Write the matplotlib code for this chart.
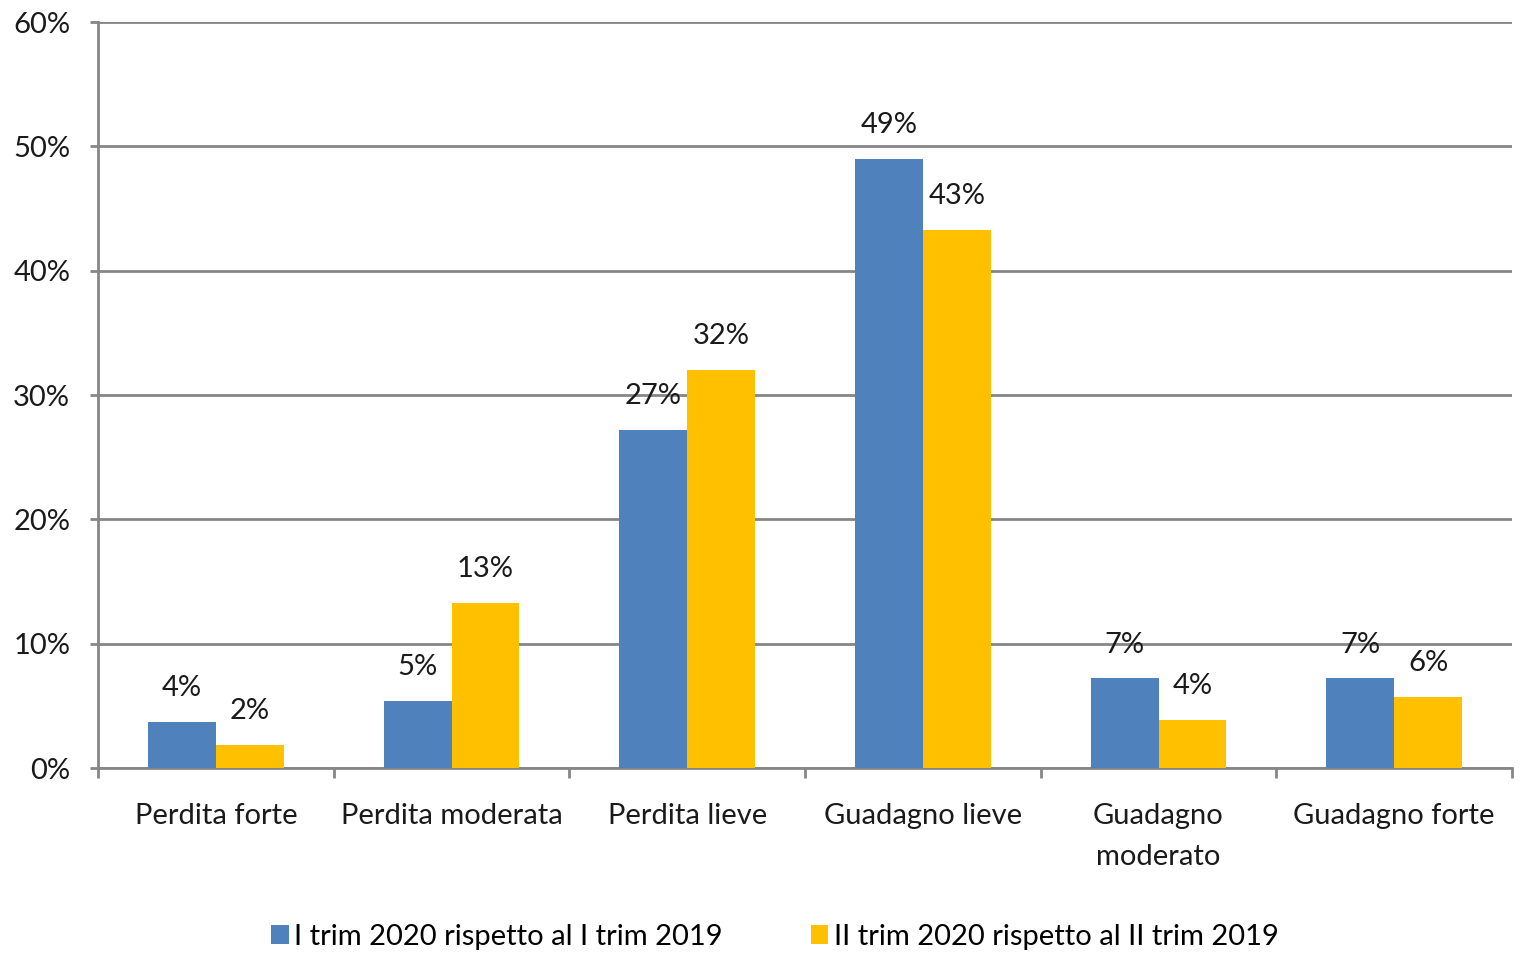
import numpy as np
import matplotlib
matplotlib.use("Agg")
import matplotlib.pyplot as plt
from matplotlib.ticker import FuncFormatter, FixedLocator

categories = ["Perdita forte", "Perdita moderata", "Perdita lieve",
              "Guadagno lieve", "Guadagno\nmoderato", "Guadagno forte"]
trim1 = [3.7, 5.4, 27.2, 49.0, 7.2, 7.2]
trim2 = [1.85, 13.3, 32.0, 43.3, 3.9, 5.7]
series_names = ["I trim 2020 rispetto al I trim 2019",
                "II trim 2020 rispetto al II trim 2019"]

plt.rcParams['font.family'] = ['Lato', 'DejaVu Sans']
grid_col = '#868686'
txt_col = '#1a1a1a'
fs = 21

fig = plt.figure(figsize=(15.2, 9.55), dpi=100)
ax = fig.add_axes([98/1520, 1-768/955, (1512-98)/1520, (768-22)/955])

x = np.arange(len(categories))
w = 0.288
b1 = ax.bar(x - w/2, trim1, w, color='#4F81BD', label=series_names[0], zorder=3)
b2 = ax.bar(x + w/2, trim2, w, color='#FFC000', label=series_names[1], zorder=3)

for bars, vals in ((b1, trim1), (b2, trim2)):
    for rect, v in zip(bars, vals):
        ax.annotate(f"{round(v):.0f}%", (rect.get_x() + rect.get_width()/2, v),
                    xytext=(0, 15), textcoords='offset points',
                    ha='center', va='bottom', fontsize=fs, color=txt_col)

ax.set_xlim(-0.5, len(categories) - 0.5)
ax.set_ylim(0, 60)
ax.set_yticks(np.arange(0, 61, 10))
ax.yaxis.set_major_formatter(FuncFormatter(lambda v, p: f"{v:.0f}%"))
ax.yaxis.grid(True, color=grid_col, linewidth=2, zorder=0)
ax.set_axisbelow(True)

ax.set_xticks(x)
ax.set_xticklabels(categories, fontsize=fs, color=txt_col, linespacing=1.75)
ax.xaxis.set_minor_locator(FixedLocator(np.arange(-0.5, len(categories), 1)))
ax.tick_params(axis='x', which='major', length=0, pad=25)
ax.tick_params(axis='x', which='minor', length=7, width=2, color=grid_col)
ax.tick_params(axis='y', length=6, width=2, color=grid_col, labelsize=fs,
               labelcolor=txt_col, pad=14)

for s in ('top', 'right'):
    ax.spines[s].set_visible(False)
for s in ('left', 'bottom'):
    ax.spines[s].set_color(grid_col)
    ax.spines[s].set_linewidth(2)

fig.legend(handles=[b1, b2], labels=series_names, loc='center',
           bbox_to_anchor=(775/1520, 1-937/955), ncol=2, frameon=False,
           fontsize=fs, handlelength=0.6, handleheight=0.6, handletextpad=0.2,
           columnspacing=3.0)

fig.savefig("out.png", dpi=100)
